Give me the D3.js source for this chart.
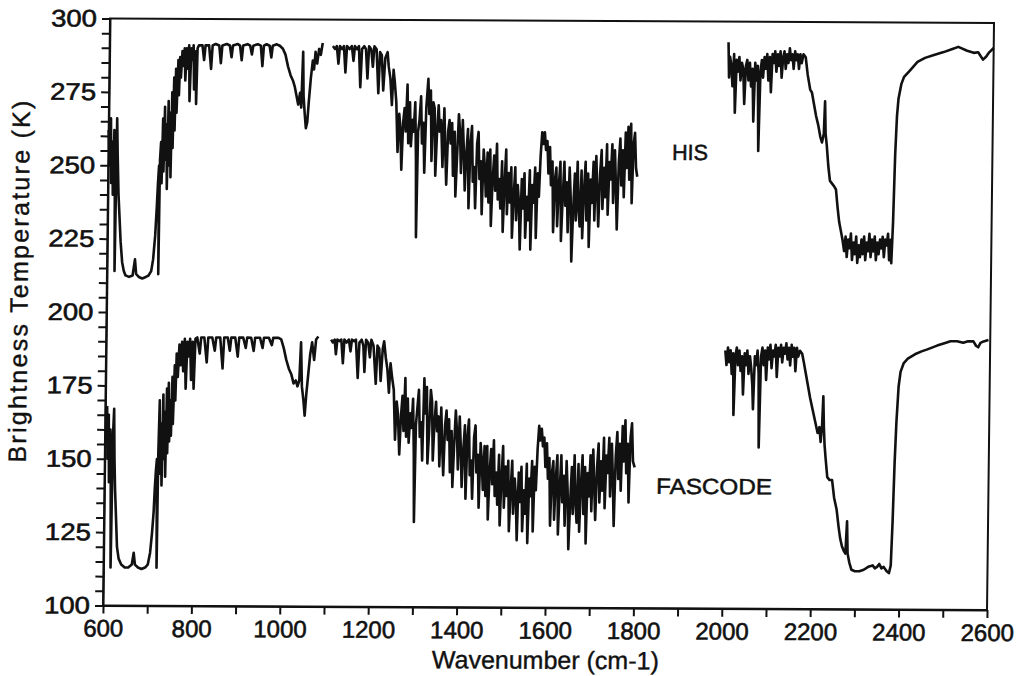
<!DOCTYPE html>
<html>
<head>
<meta charset="utf-8">
<script src="https://cdn.jsdelivr.net/npm/d3@7"></script>
<style>
  body { margin: 0; background: #fff; }
  svg { display: block; }
  text { font-family: "Liberation Sans", Arial, Helvetica, sans-serif; fill: #111; }
</style>
</head>
<body>
<svg id="chart" width="1021" height="676"></svg>
<script>
// Brightness temperature spectra, [wavenumber (cm-1), temperature (K)].
// The FASCODE curve is displayed 100 K below the HIS curve.
const hisBand1 = [
  [600,262],[603,250],[605,266],[607,244],[609,258],[611,240],[613,262],[615,252],[617,214],[619,266],
  [621,254],[624,240],[627,232],[630,224],[634,217],[638,214],[642,212.5],[650,212],[658,212.5],[663,218],
  [666,213],[672,212],[680,211.5],[688,212],[694,212.5],[700,214],[704,218],[708,226],[711,236],[713,244],
  [715,250],[716,213],[717,252],[719,258],[721,244],[723,266],[725,248],[727,270],[729,252],[731,264],
  [733,242],[735,272],[737,250],[739,268],[741,246],[743,275],[745,256],[747,280],[749,262],[751,283],
  [753,268],[756,286],[758,274],[760,287],[762,280],[765,289],[768,284],[770,290],[772,279],[775,290],
  [777,283],[780,291],[782,272],[785,290],[788,286],[790,291],[792,276],[795,289],[797,271],[799,290],
  [802,291],[810,291],[814,286],[817,291],[825,291],[830,283],[833,291],[840,291.5],[848,291],[852,285],
  [855,291],[865,291.5],[872,291],[876,287],[879,291],[890,291.5],[895,291],[899,286],[902,291],[912,291.5],
  [918,291],[922,288],[925,291],[935,291.5],[942,291],[946,284],[949,291],[955,291.5],[962,291],[966,287],
  [969,291],[978,291.5],[985,291],[992,290],[998,288],[1004,284],[1010,281],[1016,279],[1020,277],[1024,274],
  [1028,271],[1032,275],[1035,270],[1038,289],[1040,274],[1043,268],[1046,263],[1049,265],[1052,272],[1056,280],
  [1060,286],[1063,283],[1066,289],[1070,285],[1074,290],[1078,288],[1082,292]
];
const hisBand2 = [
  [1105,291],[1110,290],[1114,291],[1118,285],[1121,291],[1126,290],[1130,291],[1134,282],[1137,291],[1143,290],
  [1148,291],[1152,286],[1155,291],[1160,290],[1164,291],[1168,277],[1171,290],[1176,291],[1180,290],[1184,280],
  [1187,291],[1192,290],[1196,284],[1199,291],[1204,290],[1209,275],[1212,289],[1216,288],[1220,276],[1224,287],
  [1229,289],[1232,284],[1236,280],[1240,271],[1243,283],[1246,279],[1250,272],[1254,255],[1257,268],[1260,263],
  [1263,249],[1266,265],[1269,270],[1272,262],[1275,278],[1278,258],[1281,272],[1284,257],[1287,266],[1290,262],
  [1293,272],[1296,252],[1298,226],[1300,262],[1303,266],[1306,274],[1309,258],[1312,265],[1315,248],[1318,270],
  [1322,280],[1325,268],[1328,276],[1331,252],[1334,272],[1337,270],[1340,247],[1343,262],[1346,271],[1349,262],
  [1352,266],[1356,250],[1359,270],[1362,256],[1365,244],[1368,262],[1371,266],[1374,258],[1377,265],[1380,247],
  [1383,262],[1386,240],[1389,254],[1392,268],[1395,262],[1398,248],[1401,266],[1404,256],[1407,242],[1410,255],
  [1413,263],[1416,236],[1419,258],[1422,264],[1425,245],[1428,250],[1431,236],[1434,258],[1437,262],[1440,246],
  [1443,252],[1446,234],[1449,256],[1452,250],[1455,240],[1458,255],[1461,238],[1464,256],[1467,230],[1470,246],
  [1473,254],[1476,242],[1479,258],[1482,239],[1485,246],[1488,236],[1491,252],[1494,228],[1497,244],[1500,256],
  [1503,234],[1506,248],[1509,238],[1512,250],[1515,226],[1518,240],[1521,250],[1524,232],[1527,244],[1530,238],
  [1533,222],[1536,246],[1539,236],[1542,248],[1545,226],[1548,240],[1551,232],[1554,249],[1557,222],[1560,244],
  [1563,238],[1566,250],[1569,226],[1572,248],[1575,240],[1578,254],[1581,262],[1584,258],[1587,262],[1590,256],
  [1593,259],[1596,248],[1599,257],[1602,244],[1605,252],[1608,228],[1611,246],[1614,250],[1617,230],[1620,244],
  [1623,252],[1626,225],[1629,240],[1632,252],[1635,237],[1638,245],[1641,228],[1644,250],[1647,240],[1650,218],
  [1653,236],[1656,248],[1659,232],[1662,252],[1665,236],[1668,230],[1671,249],[1674,226],[1677,242],[1680,252],
  [1683,232],[1686,248],[1689,223],[1692,246],[1695,238],[1698,252],[1701,232],[1704,254],[1707,242],[1710,230],
  [1713,248],[1716,256],[1719,236],[1722,250],[1725,240],[1728,258],[1731,234],[1734,252],[1737,246],[1740,258],
  [1743,238],[1746,256],[1749,244],[1752,229],[1755,252],[1758,260],[1761,244],[1764,256],[1767,240],[1770,262],
  [1773,250],[1776,264],[1779,246],[1782,265],[1785,238],[1788,258],[1791,262],[1794,250],[1797,247]
];
const hisBand3 = [
  [2000,293],[2002,281],[2004,288],[2007,285],[2010,278],[2013,289],[2016,269],[2019,287],[2022,283],[2025,288],
  [2028,280],[2031,286],[2034,284],[2037,272],[2040,285],[2043,287],[2046,280],[2049,286],[2052,278],[2055,284],
  [2058,266],[2061,286],[2064,280],[2067,285],[2070,256],[2073,283],[2076,287],[2079,281],[2082,288],[2085,284],
  [2088,289],[2091,280],[2094,288],[2097,276],[2100,289],[2103,286],[2106,290],[2109,283],[2112,289],[2115,285],
  [2118,290],[2121,281],[2124,288],[2127,290],[2130,284],[2133,289],[2136,286],[2139,291],[2142,287],[2145,289],
  [2148,284],[2151,290],[2154,287],[2157,289],[2160,284],[2163,289],[2166,286],[2170,289],[2175,288],[2180,282],
  [2186,277],[2190,276],[2195,272],[2200,268],[2205,265],[2210,261],[2214,259],[2218,262],[2220,273],[2222,262],
  [2225,258],[2229,251],[2233,246],[2238,245],[2243,244],[2247,243],[2251,237],[2255,232],[2259,229],[2263,226],
  [2267,222],[2270,227],[2273,220],[2276,226],[2279,223],[2282,228],[2285,219],[2288,225],[2291,221],[2294,227],
  [2297,218],[2300,224],[2303,220],[2306,226],[2309,221],[2312,227],[2315,219],[2318,225],[2321,222],[2324,228],
  [2327,220],[2330,226],[2333,222],[2336,227],[2339,219],[2342,225],[2345,221],[2348,226],[2351,223],[2354,227],
  [2357,220],[2360,226],[2363,224],[2366,228],[2369,219],[2372,226],[2374,218],[2377,232],[2380,255],[2383,268],
  [2386,274],[2392,279],[2398,281.5],[2410,283.5],[2428,286.6],[2445,288],[2465,289],[2487,290],[2505,291],[2520,291.8],
  [2540,290.5],[2555,289.8],[2565,290],[2576,287.5],[2583,288.5],[2590,290],[2600,291.5]
];
const fascodeBand1 = [
  [604,168],[606,150],[608,165],[610,142],[612,160],[614,145],[616,113],[618,158],[620,167],[622,150],
  [624,140],[627,130],[630,120],[634,116],[640,114],[648,113],[656,113],[664,114],[668,118],[671,114],
  [678,113],[686,112.5],[694,113],[700,114],[705,118],[709,125],[712,132],[714,140],[716,146],[718,150],
  [720,113],[721,152],[723,170],[725,145],[727,162],[729,141],[731,172],[733,150],[735,166],[737,144],
  [739,174],[741,152],[743,176],[745,156],[747,170],[749,158],[751,178],[753,162],[756,182],[758,170],
  [760,186],[763,178],[766,189],[769,182],[772,190],[775,180],[778,191],[781,174],[784,190],[787,185],
  [790,191],[793,177],[796,190],[799,174],[802,191],[806,191.5],[812,186],[815,191.5],[822,191.5],[828,183],
  [831,191.5],[840,191.5],[846,187],[849,191.5],[858,191.5],[864,181],[867,191.5],[875,191.5],[880,187],[883,191.5],
  [892,191.5],[898,185],[901,191.5],[910,191.5],[916,188],[919,191.5],[928,191.5],[934,187],[937,191.5],[948,191.5],
  [954,188],[957,191.5],[968,191.5],[975,189],[978,191.5],[990,191.5],[996,191],[1002,188],[1008,184],[1014,181],
  [1020,179],[1025,176],[1030,177],[1034,175],[1038,177],[1041,190],[1044,175],[1048,170],[1051,165],[1054,172],
  [1058,179],[1062,186],[1066,190],[1071,184],[1075,191],[1080,192]
];
const fascodeBand2 = [
  [1109,191],[1113,190],[1117,191],[1120,186],[1123,191],[1128,190.5],[1132,191],[1136,183],[1139,191],[1144,190],
  [1149,191],[1153,187],[1156,191],[1161,190.5],[1165,191],[1170,178],[1173,190],[1178,191],[1182,189],[1185,180],
  [1188,191],[1193,190],[1197,185],[1200,191],[1205,189],[1211,176],[1214,189],[1218,188],[1222,177],[1226,188],
  [1229,190.5],[1233,185],[1237,181],[1241,173],[1244,183],[1248,178],[1252,174],[1256,157],[1259,170],[1262,166],
  [1266,152],[1269,165],[1272,172],[1275,160],[1278,178],[1281,158],[1284,171],[1287,156],[1290,166],[1293,161],
  [1296,171],[1299,152],[1301,129],[1303,162],[1306,168],[1309,174],[1312,158],[1315,163],[1318,150],[1321,178],
  [1324,166],[1327,175],[1330,149],[1333,160],[1336,174],[1339,170],[1342,150],[1345,163],[1348,170],[1351,160],
  [1354,165],[1357,148],[1360,168],[1363,155],[1366,145],[1369,162],[1372,167],[1375,157],[1378,164],[1381,146],
  [1384,160],[1387,141],[1390,155],[1393,167],[1396,160],[1399,147],[1402,165],[1405,155],[1408,141],[1411,154],
  [1414,162],[1417,137],[1420,158],[1423,164],[1426,145],[1429,150],[1432,137],[1435,158],[1438,162],[1441,146],
  [1444,152],[1447,134],[1450,156],[1453,150],[1456,140],[1459,155],[1462,138],[1465,155],[1468,130],[1471,146],
  [1474,154],[1477,142],[1480,157],[1483,138],[1486,146],[1489,135],[1492,152],[1495,128],[1498,144],[1501,155],
  [1504,134],[1507,148],[1510,138],[1513,150],[1516,126],[1519,140],[1522,150],[1525,132],[1528,144],[1531,138],
  [1534,123],[1537,146],[1540,136],[1543,148],[1546,126],[1549,140],[1552,132],[1555,149],[1558,122],[1561,144],
  [1564,138],[1567,150],[1570,126],[1573,148],[1576,140],[1579,154],[1582,162],[1585,157],[1588,161],[1591,155],
  [1594,158],[1597,148],[1600,156],[1603,144],[1606,151],[1609,128],[1612,146],[1615,150],[1618,130],[1621,144],
  [1624,152],[1627,125],[1630,140],[1633,152],[1636,136],[1639,145],[1642,128],[1645,150],[1648,140],[1651,120],
  [1654,136],[1657,148],[1660,132],[1663,152],[1666,136],[1669,129],[1672,149],[1675,126],[1678,142],[1681,152],
  [1684,132],[1687,148],[1690,122],[1693,146],[1696,138],[1699,152],[1702,133],[1705,154],[1708,142],[1711,130],
  [1714,148],[1717,156],[1720,136],[1723,150],[1726,140],[1729,158],[1732,134],[1735,152],[1738,146],[1741,158],
  [1744,138],[1747,156],[1750,144],[1753,128],[1756,152],[1759,160],[1762,144],[1765,156],[1768,140],[1771,162],
  [1774,150],[1777,164],[1780,146],[1783,156],[1786,136],[1789,158],[1792,163],[1795,150],[1799,148]
];
const fascodeBand3 = [
  [2001,188],[2004,183],[2007,189],[2010,184],[2013,188],[2016,180],[2019,187],[2021,166],[2024,186],[2027,189],
  [2030,183],[2033,188],[2036,181],[2039,186],[2042,173],[2045,187],[2048,183],[2051,188],[2054,180],[2057,186],
  [2060,182],[2063,176],[2065,168],[2068,186],[2071,183],[2074,188],[2077,180],[2079,155],[2082,186],[2085,189],
  [2088,183],[2091,188],[2094,178],[2097,189],[2100,185],[2103,190],[2106,182],[2109,188],[2112,186],[2115,190],
  [2118,179],[2121,189],[2124,186],[2127,190],[2130,184],[2133,189],[2136,187],[2139,190.5],[2142,185],[2145,189],
  [2148,183],[2151,190],[2154,186],[2157,189],[2160,181],[2163,189],[2166,186],[2170,188],[2175,187],[2179,184],
  [2184,180],[2189,176],[2194,172],[2200,168],[2206,164],[2212,160],[2216,162],[2219,157],[2222,163],[2224,172.5],
  [2226,162],[2228,156],[2231,151],[2235,145],[2240,144],[2246,144],[2251,138],[2257,134],[2262,128],[2266,124],
  [2270,121.5],[2274,120],[2278,119],[2281,130],[2283,119],[2287,116],[2292,113.5],[2300,113],[2310,113],[2320,113.5],
  [2330,114.5],[2340,115],[2345,114],[2350,114.5],[2355,115.5],[2360,114],[2365,114.5],[2372,113],[2377,112.4],[2381,115],
  [2384,130],[2387,150],[2390,164],[2394,176],[2398,181],[2405,184],[2414,185.5],[2430,187],[2445,188],[2458,188.7],
  [2480,190],[2500,191],[2510,191.5],[2525,191.5],[2539,191],[2550,191.5],[2562,191.5],[2568,190],[2573,189.5],[2578,191],
  [2585,191.5],[2596,192]
];

const xTicksMajor = [600, 800, 1000, 1200, 1400, 1600, 1800, 2000, 2200, 2400, 2600];
const xTicksMinor = [700, 900, 1100, 1300, 1500, 1700, 1900, 2100, 2300, 2500];
const yTicksMajor = [100, 125, 150, 175, 200, 225, 250, 275, 300];
const yTicksMinor = d3.range(100, 301, 5).filter(v => v % 25 !== 0);

const xTitle = "Wavenumber (cm-1)";
const yTitle = "Brightness Temperature (K)";
const curveLabels = [
  { text: "HIS", wn: 1875, k: 252.8, len: 36 },
  { text: "FASCODE", wn: 1848, k: 139, len: 116 }
];

// Plot frame size; the frame is placed on the page with a slight tilt.
const W = 884, H = 587;
const x = d3.scaleLinear().domain([600, 2600]).range([0, W]);
const y = d3.scaleLinear().domain([100, 300]).range([H, 0]);

const svg = d3.select("#chart");
const g = svg.append("g").attr("transform", "matrix(1,0.0051,-0.0119,1,110,18.5)");

// Minor ticks
g.append("g").attr("transform", `translate(0,${H})`)
  .call(d3.axisBottom(x).tickValues(xTicksMinor).tickSize(8).tickFormat(""))
  .call(a => a.select(".domain").remove());
g.append("g")
  .call(d3.axisLeft(y).tickValues(yTicksMinor).tickSize(8).tickFormat(""))
  .call(a => a.select(".domain").remove());

// Major axes
const xAxisG = g.append("g").attr("transform", `translate(0,${H})`)
  .call(d3.axisBottom(x).tickValues(xTicksMajor).tickSize(8).tickSizeOuter(0).tickPadding(6).tickFormat(d3.format("d")));
const yAxisG = g.append("g")
  .call(d3.axisLeft(y).tickValues(yTicksMajor).tickSize(8).tickSizeOuter(0).tickPadding(5).tickFormat(d3.format("d")));

g.selectAll(".tick line").attr("stroke", "#111").attr("stroke-width", 2);
g.selectAll(".domain").attr("stroke", "#111").attr("stroke-width", 2);
g.selectAll(".tick text").attr("font-size", 24).attr("fill", "#111")
  .attr("font-family", "'Liberation Sans', Arial, sans-serif")
  .attr("stroke", "#111").attr("stroke-width", 0.6);
// y-axis numbers are set slightly wider
yAxisG.selectAll(".tick text")
  .attr("textLength", 46)
  .attr("lengthAdjust", "spacingAndGlyphs");

// Frame
g.append("rect").attr("x", 0).attr("y", 0).attr("width", W).attr("height", H)
  .attr("fill", "none").attr("stroke", "#111").attr("stroke-width", 2);

// Spectra
const line = d3.line().x(d => x(d[0])).y(d => y(d[1]));
const bands = [hisBand1, hisBand2, hisBand3, fascodeBand1, fascodeBand2, fascodeBand3];
g.append("g").selectAll("path").data(bands).join("path")
  .attr("d", line)
  .attr("fill", "none")
  .attr("stroke", "#111")
  .attr("stroke-width", 2.6)
  .attr("stroke-linejoin", "round");

// Curve labels
g.selectAll(".curve-label").data(curveLabels).join("text")
  .attr("class", "curve-label")
  .attr("x", d => x(d.wn)).attr("y", d => y(d.k))
  .attr("font-size", 22)
  .attr("textLength", d => d.len)
  .attr("lengthAdjust", "spacingAndGlyphs")
  .attr("stroke", "#111").attr("stroke-width", 0.5)
  .text(d => d.text);

// Axis titles
g.append("text")
  .attr("x", W / 2 + 1).attr("y", H + 61)
  .attr("text-anchor", "middle")
  .attr("font-size", 25)
  .attr("stroke", "#111").attr("stroke-width", 0.4)
  .text(xTitle);
g.append("text")
  .attr("transform", `translate(-79,${H / 2 - 30}) rotate(-90)`)
  .attr("text-anchor", "middle")
  .attr("font-size", 25)
  .attr("textLength", 362)
  .attr("lengthAdjust", "spacing")
  .attr("stroke", "#111").attr("stroke-width", 0.4)
  .text(yTitle);
</script>
</body>
</html>
